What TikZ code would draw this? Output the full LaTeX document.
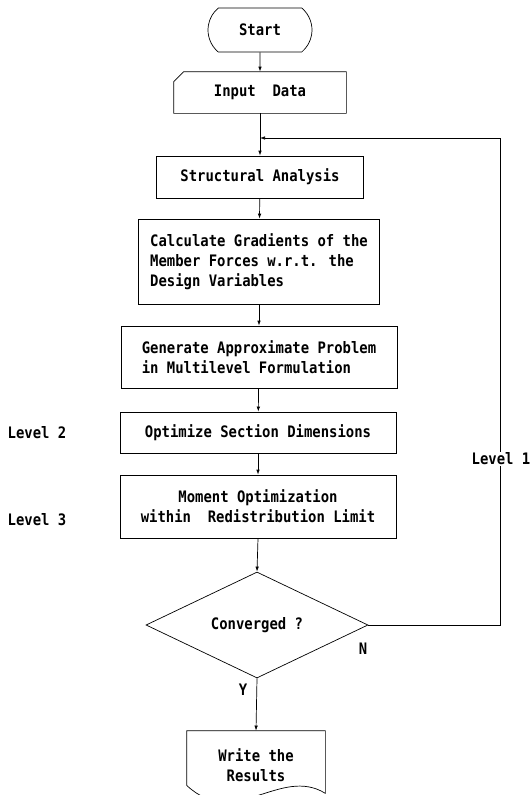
\documentclass[tikz,border=0pt]{standalone}
\usepackage{fontspec}
\setmainfont{DejaVu Sans Mono}[FakeStretch=0.88]
\usetikzlibrary{arrows.meta,calc,shapes.geometric,shapes.misc}

\begin{document}
\begin{tikzpicture}[
    x=1pt, y=-1pt,
    line width=0.7pt,
    font=\fontsize{15.8}{20}\selectfont\bfseries,
    flow/.style={-{Latex[length=5pt,width=3.5pt]}},
    box/.style={draw, rectangle, inner sep=0pt, align=center},
    terminal/.style={draw, rounded rectangle, rounded rectangle arc length=100, minimum width=104pt, minimum height=44pt, inner sep=0pt},
    decision/.style={draw, diamond, aspect=2.1, inner sep=0pt, minimum width=222pt, minimum height=106pt},
    nobox/.style={inner sep=0pt, align=center},
    lvl/.style={inner sep=1pt}]
\useasboundingbox (0,0) rectangle (532,795);

\node[terminal] (start) at (260,30) {Start};
\node[nobox, minimum width=172pt, minimum height=41pt] (input) at (260,92.5) {Input~ Data};
\draw ($(input.north west)+(10,0)$) -- (input.north east) -- (input.south east) -- (input.south west) -- ($(input.north west)+(0,10)$) -- cycle;
\coordinate (join) at (260,138);
\node[box, minimum width=207pt, minimum height=42pt] (struct) at (260,177) {Structural Analysis};
\node[box, align=left, minimum width=241pt, minimum height=85pt] (grad) at (259,261.5) {Calculate Gradients of the\\Member Forces w.r.t. the\\Design Variables};
\node[box, align=left, minimum width=276pt, minimum height=62pt] (approx) at (259,357) {Generate Approximate Problem\\in Multilevel Formulation};
\node[box, minimum width=276pt, minimum height=41pt] (sizing) at (258,432.5) {Optimize Section Dimensions};
\node[box, minimum width=276pt, minimum height=63pt] (moment) at (258,506.5) {Moment Optimization\\within~ Redistribution Limit};
\node[decision] (conv) at (257,625) {Converged ?};
\node[nobox, minimum width=138pt, minimum height=68pt] (res) at (256,765) {Write the\\Results};
\draw ($(res.south west)+(0,-14)$) -- (res.north west) -- (res.north east) -- ($(res.south east)+(0,-6)$) .. controls +(-45,-28) and +(48,45) .. ($(res.south west)+(0,-14)$);
\coordinate (back) at (500,138);

\node[lvl] (lvltwo) at (37,433) {Level 2};
\node[lvl] (lvlthree) at (37,520) {Level 3};
\node[lvl] (yes) at (243,690) {Y};
\node[lvl] (no) at (363,649) {N};

\draw[flow] (start) -- (input);
\draw[flow] (input) -- (struct);
\draw[flow] (struct) -- (grad);
\draw[flow] (grad) -- (approx);
\draw[flow] (approx) -- (sizing);
\draw[flow] (sizing) -- (moment);
\draw[flow] (moment.south) -- (conv.north);
\draw[flow] (conv.south) -- (res.north);
\draw[flow] (conv.east) -| (back) -- (join);
\node[lvl, fill=white] (lvlone) at (501,459) {Level 1};

\end{tikzpicture}
\end{document}
